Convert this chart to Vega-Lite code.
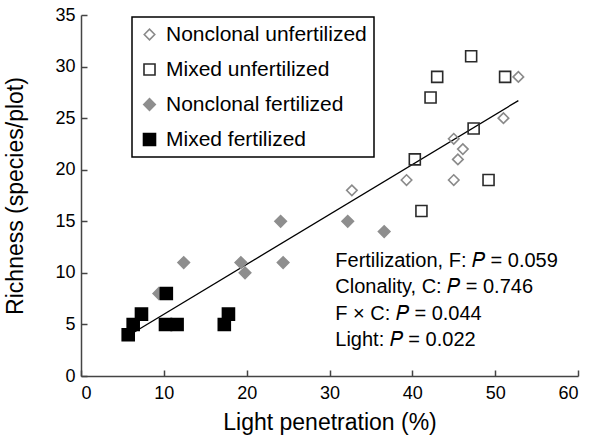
{
  "$schema": "https://vega.github.io/schema/vega-lite/v6.json",
  "width": 497,
  "height": 361,
  "autosize": {"type": "none"},
  "padding": {"left": 81, "top": 15, "right": 17, "bottom": 59},
  "config": {
    "view": {"stroke": null},
    "font": "Liberation Sans",
    "axis": {
      "grid": false,
      "domainColor": "#444444",
      "domainWidth": 1.5,
      "tickColor": "#444444",
      "tickWidth": 1.5,
      "tickSize": -6,
      "labelFontSize": 18,
      "labelColor": "#000000",
      "titleFontSize": 23,
      "titleFontWeight": "normal",
      "titleColor": "#000000"
    },
    "legend": {
      "orient": "none",
      "legendX": 51,
      "legendY": 2,
      "strokeColor": "#000000",
      "strokeWidth": 1.5,
      "fillColor": "#ffffff",
      "padding": 7,
      "labelFontSize": 21,
      "labelLimit": 400,
      "labelColor": "#000000",
      "labelOffset": 6,
      "rowPadding": 13,
      "symbolStrokeWidth": 1.6
    }
  },
  "layer": [
    {
      "data": {"values": [{"light": 6.4, "richness": 4.24}, {"light": 52.8, "richness": 26.7}]},
      "mark": {"type": "line", "color": "#000000", "strokeWidth": 1.3},
      "encoding": {
        "x": {"field": "light", "type": "quantitative", "scale": {"domain": [0, 60], "nice": false},
          "axis": {"values": [0, 10, 20, 30, 40, 50, 60], "labelPadding": 14, "title": "Light penetration (%)", "titlePadding": 9}},
        "y": {"field": "richness", "type": "quantitative", "scale": {"domain": [0, 35], "nice": false},
          "axis": {"values": [0, 5, 10, 15, 20, 25, 30, 35], "labelPadding": 12, "title": "Richness (species/plot)", "titlePadding": 27}}
      }
    },
    {
      "data": {"values": [
        {"light": 52.8, "richness": 29, "group": "Nonclonal unfertilized"},
        {"light": 51.0, "richness": 25, "group": "Nonclonal unfertilized"},
        {"light": 45.0, "richness": 23, "group": "Nonclonal unfertilized"},
        {"light": 46.1, "richness": 22, "group": "Nonclonal unfertilized"},
        {"light": 45.5, "richness": 21, "group": "Nonclonal unfertilized"},
        {"light": 45.0, "richness": 19, "group": "Nonclonal unfertilized"},
        {"light": 39.3, "richness": 19, "group": "Nonclonal unfertilized"},
        {"light": 32.7, "richness": 18, "group": "Nonclonal unfertilized"},
        {"light": 47.1, "richness": 31, "group": "Mixed unfertilized"},
        {"light": 43.0, "richness": 29, "group": "Mixed unfertilized"},
        {"light": 51.2, "richness": 29, "group": "Mixed unfertilized"},
        {"light": 42.2, "richness": 27, "group": "Mixed unfertilized"},
        {"light": 47.4, "richness": 24, "group": "Mixed unfertilized"},
        {"light": 40.3, "richness": 21, "group": "Mixed unfertilized"},
        {"light": 49.2, "richness": 19, "group": "Mixed unfertilized"},
        {"light": 41.1, "richness": 16, "group": "Mixed unfertilized"},
        {"light": 24.1, "richness": 15, "group": "Nonclonal fertilized"},
        {"light": 32.2, "richness": 15, "group": "Nonclonal fertilized"},
        {"light": 36.6, "richness": 14, "group": "Nonclonal fertilized"},
        {"light": 24.4, "richness": 11, "group": "Nonclonal fertilized"},
        {"light": 19.3, "richness": 11, "group": "Nonclonal fertilized"},
        {"light": 19.8, "richness": 10, "group": "Nonclonal fertilized"},
        {"light": 12.4, "richness": 11, "group": "Nonclonal fertilized"},
        {"light": 9.4, "richness": 8, "group": "Nonclonal fertilized"},
        {"light": 10.3, "richness": 8, "group": "Mixed fertilized"},
        {"light": 7.3, "richness": 6, "group": "Mixed fertilized"},
        {"light": 6.3, "richness": 5, "group": "Mixed fertilized"},
        {"light": 5.7, "richness": 4, "group": "Mixed fertilized"},
        {"light": 10.2, "richness": 5, "group": "Mixed fertilized"},
        {"light": 11.6, "richness": 5, "group": "Mixed fertilized"},
        {"light": 17.8, "richness": 6, "group": "Mixed fertilized"},
        {"light": 17.3, "richness": 5, "group": "Mixed fertilized"}
      ]},
      "mark": {"type": "point", "opacity": 1, "strokeWidth": 1.6},
      "encoding": {
        "x": {"field": "light", "type": "quantitative"},
        "y": {"field": "richness", "type": "quantitative"},
        "shape": {"field": "group", "type": "nominal", "title": null,
          "scale": {"domain": ["Nonclonal unfertilized", "Mixed unfertilized", "Nonclonal fertilized", "Mixed fertilized"], "range": ["diamond", "square", "diamond", "square"]}},
        "fill": {"field": "group", "type": "nominal", "title": null,
          "scale": {"domain": ["Nonclonal unfertilized", "Mixed unfertilized", "Nonclonal fertilized", "Mixed fertilized"], "range": ["transparent", "transparent", "#8e8e8e", "#000000"]}},
        "stroke": {"field": "group", "type": "nominal", "title": null,
          "scale": {"domain": ["Nonclonal unfertilized", "Mixed unfertilized", "Nonclonal fertilized", "Mixed fertilized"], "range": ["#8a8a8a", "#2a2a2a", "#8e8e8e", "#000000"]}},
        "size": {"field": "group", "type": "nominal", "title": null,
          "scale": {"domain": ["Nonclonal unfertilized", "Mixed unfertilized", "Nonclonal fertilized", "Mixed fertilized"], "range": [110, 144, 140, 150]}}
      }
    },
    {
      "data": {"values": [{"lines": ["Fertilization, F: 𝑃 = 0.059", "Clonality, C: 𝑃 = 0.746", "F × C: 𝑃 = 0.044", "Light: 𝑃 = 0.022"]}]},
      "mark": {"type": "text", "align": "left", "baseline": "alphabetic", "fontSize": 20, "lineHeight": 26.5, "color": "#000000"},
      "encoding": {
        "x": {"datum": 30.7, "type": "quantitative"},
        "y": {"datum": 10.57, "type": "quantitative"},
        "text": {"field": "lines"}
      }
    }
  ]
}
